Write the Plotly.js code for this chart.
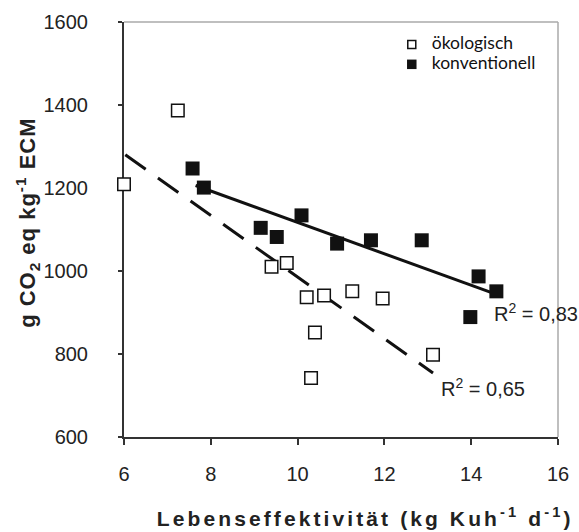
<!DOCTYPE html>
<html>
<head>
<meta charset="utf-8">
<script src="https://cdn.plot.ly/plotly-3.0.1.min.js"></script>
<style>
html,body{margin:0;padding:0;background:#fff;}
#chart{width:579px;height:532px;}
.legend .legendtext{font-size:17.5px !important;}
.legend .scrollbox{clip-path:none !important;}
.annotation[data-index="2"] .annotation-text{letter-spacing:3.1px;}
.annotation[data-index="3"] .annotation-text{letter-spacing:1px;}
</style>
</head>
<body>
<div id="chart"></div>
<script>
// ökologisch (open squares)
const oekoX = [6.0, 7.24, 9.40, 9.75, 10.21, 10.61, 11.26, 11.96, 10.40, 10.31, 13.12];
const oekoY = [1209, 1387, 1010, 1019, 937, 941, 951, 934, 852, 742, 798];
// konventionell (filled squares)
const konvX = [7.58, 7.84, 9.15, 9.52, 10.09, 10.91, 11.69, 12.86, 14.17, 14.58, 13.98];
const konvY = [1247, 1201, 1104, 1082, 1134, 1066, 1074, 1074, 987, 951, 889];
// trend lines (end points as drawn)
const trendOekoX = [6.03, 13.12];
const trendOekoY = [1280, 754];
const trendKonvX = [7.65, 14.55];
const trendKonvY = [1206, 945];
// labels
const seriesNames = ["ökologisch", "konventionell"];
const r2Labels = ["R<sup>2</sup> = 0,83", "R<sup>2</sup> = 0,65"];
const r2X = [14.47, 13.26];
const r2Y = [901, 720];
const xTicks = [6, 8, 10, 12, 14, 16];
const yTicks = [600, 800, 1000, 1200, 1400, 1600];
const xTitle = 'Lebenseffektivität (kg Kuh<sup>-1</sup> d<sup>-1</sup>)';
const yTitle = 'g CO<sub>2</sub> eq kg<sup>-1</sup> ECM';

const traces = [
  {x: trendOekoX, y: trendOekoY, mode: 'lines', showlegend: false, hoverinfo: 'skip',
   line: {color: '#111', width: 3, dash: '25px,15px'}},
  {x: trendKonvX, y: trendKonvY, mode: 'lines', showlegend: false, hoverinfo: 'skip',
   line: {color: '#111', width: 3}},
  {x: oekoX, y: oekoY, mode: 'markers', name: seriesNames[0], showlegend: false, cliponaxis: false,
   marker: {symbol: 'square', size: 12.5, color: '#fff', line: {color: '#111', width: 1.5}}},
  {x: konvX, y: konvY, mode: 'markers', name: seriesNames[1], showlegend: false, cliponaxis: false,
   marker: {symbol: 'square', size: 14, color: '#111', line: {width: 0}}},
  // legend entries (smaller symbols, as in the reference legend)
  {x: [null], y: [null], mode: 'markers', name: seriesNames[0],
   marker: {symbol: 'square', size: 8, color: '#fff', line: {color: '#111', width: 1.5}}},
  {x: [null], y: [null], mode: 'markers', name: seriesNames[1],
   marker: {symbol: 'square', size: 9.5, color: '#111', line: {width: 0}}}
];

const baseFont = 'Liberation Sans, Arial, sans-serif';
const annotations = r2Labels.map((t, i) => ({
  x: r2X[i], y: r2Y[i], xref: 'x', yref: 'y', text: t, showarrow: false,
  xanchor: 'left', yanchor: 'middle',
  font: {family: baseFont, size: 20, color: '#222'}
}));
// axis titles
annotations.push({
  x: 0.555, y: -0.1935, xref: 'paper', yref: 'paper', text: xTitle, showarrow: false,
  xanchor: 'center', yanchor: 'middle',
  font: {family: baseFont, size: 21, weight: 'bold', color: '#222'}
});
annotations.push({
  x: -0.2233, y: 0.515, xref: 'paper', yref: 'paper', text: yTitle, showarrow: false,
  textangle: -90, xanchor: 'center', yanchor: 'middle',
  font: {family: baseFont, size: 22, weight: 'bold', color: '#222'}
});

const layout = {
  width: 579, height: 532,
  margin: {l: 124, r: 20.7, t: 21.7, b: 95.3, pad: 0},
  paper_bgcolor: '#fff', plot_bgcolor: '#fff',
  font: {family: baseFont, size: 20, color: '#222'},
  showlegend: true,
  legend: {x: 0.617, y: 0.982, xanchor: 'left', yanchor: 'top', bgcolor: 'rgba(0,0,0,0)',
    borderwidth: 0, tracegroupgap: 0,
    font: {family: 'Lato, Liberation Sans, sans-serif', size: 13, color: '#111'}},
  xaxis: {
    range: [6, 16], tickvals: xTicks, ticktext: xTicks.map(String),
    showgrid: false, zeroline: false, showline: true, linecolor: '#333', linewidth: 2,
    ticks: 'outside', ticklen: 6, tickwidth: 2, tickcolor: '#333',
    ticklabelstandoff: 12, layer: 'below traces',
    tickfont: {size: 20, color: '#222'}
  },
  yaxis: {
    range: [600, 1600], tickvals: yTicks, ticktext: yTicks.map(String),
    showgrid: false, zeroline: false, showline: true, linecolor: '#333', linewidth: 2,
    ticks: 'outside', ticklen: 4, tickwidth: 2, tickcolor: '#333',
    ticklabelstandoff: 26, layer: 'below traces',
    tickfont: {size: 20, color: '#222'}
  },
  shapes: [
    {type: 'line', xref: 'paper', yref: 'paper', x0: 0, x1: 1, y0: 1, y1: 1,
     line: {color: '#aaa', width: 1.5}, layer: 'below'},
    {type: 'line', xref: 'paper', yref: 'paper', x0: 1, x1: 1, y0: 0, y1: 1,
     line: {color: '#aaa', width: 1.5}, layer: 'below'}
  ],
  annotations: annotations
};

Plotly.newPlot('chart', traces, layout, {displayModeBar: false, staticPlot: true});
</script>
</body>
</html>
